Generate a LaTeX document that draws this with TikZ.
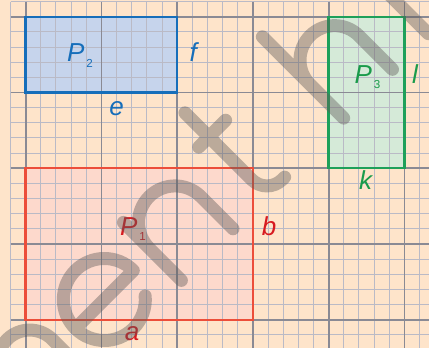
\documentclass[tikz,border=0pt]{standalone}
\usepackage{fontspec}
\setmainfont{Liberation Sans}
\definecolor{bg}{RGB}{254,228,202}
\definecolor{minorc}{RGB}{186,186,198}
\definecolor{majorc}{RGB}{138,138,148}
\definecolor{blueS}{RGB}{22,110,186}
\definecolor{blueF}{RGB}{198,212,236}
\definecolor{redS}{RGB}{236,78,58}
\definecolor{redF}{RGB}{253,217,204}
\definecolor{redT}{RGB}{215,25,32}
\definecolor{greenS}{RGB}{30,160,90}
\definecolor{greenF}{RGB}{213,234,216}
\definecolor{greenT}{RGB}{26,155,75}
\definecolor{wm}{RGB}{95,90,88}
\newcommand{\subsc}[1]{\kern1pt\raisebox{-2.8pt}{\fontsize{5.8}{6}\selectfont\upshape #1}}
\begin{document}
\begin{tikzpicture}[x=0.5pt,y=-0.5pt,
  lbl/.style={inner sep=0pt, anchor=base, font=\fontsize{13}{15}\selectfont\itshape},
  minorline/.style={draw=minorc, line width=0.5pt},
  majorline/.style={draw=majorc, line width=0.9pt},
  rectline/.style={line width=1.2pt},
  wmline/.style={draw=wm, draw opacity=0.42, line width=6.5pt, line cap=round, line join=round}]
\useasboundingbox (0,0) rectangle (429,348);
\clip (0,0) rectangle (429,348);
\fill[bg] (0,0) rectangle (429,348);
% fills
\fill[blueF] (25.65,16.75) rectangle (177.15,92.5);
\fill[redF] (25.65,168.25) rectangle (252.9,319.75);
\fill[greenF] (328.65,16.75) rectangle (404.4,168.25);
% grid
\foreach \i in {0,...,27} {
  \pgfmathsetmacro\xx{10.5+15.15*\i}
  \draw[minorline] (\xx,1.6) -- (\xx,348);
}
\foreach \j in {0,...,22} {
  \pgfmathsetmacro\yy{1.6+15.15*\j}
  \draw[minorline] (10.5,\yy) -- (429,\yy);
}
\foreach \i in {1,6,...,26} {
  \pgfmathsetmacro\xx{10.5+15.15*\i}
  \draw[majorline] (\xx,1.6) -- (\xx,348);
}
\foreach \j in {1,6,...,21} {
  \pgfmathsetmacro\yy{1.6+15.15*\j}
  \draw[majorline] (10.5,\yy) -- (429,\yy);
}
% rectangles
\draw[rectline, blueS] (25.65,16.75) rectangle (177.15,92.5);
\draw[rectline, redS] (25.65,168.25) rectangle (252.9,319.75);
\draw[rectline, greenS] (328.65,16.75) rectangle (404.4,168.25);
% labels
\node[lbl, text=blueS] (p2) at (80,61.7) {P\subsc{2}};
\node[lbl, text=blueS] (lf) at (193.3,61.7) {f};
\node[lbl, text=blueS] (le) at (116.7,115) {e};
\node[lbl, text=greenT] (p3) at (367.5,83.3) {P\subsc{3}};
\node[lbl, text=greenT] (ll) at (415,83.3) {l};
\node[lbl, text=greenT] (lk) at (365.7,189) {k};
\node[lbl, text=redT] (p1) at (133,235) {P\subsc{1}};
\node[lbl, text=redT] (lb) at (269,235.7) {b};
\node[lbl, text=redT] (la) at (132,340.7) {a};
% watermark
\begin{scope}[shift={(235.5,235.5)}, x={(0.35355pt,0.35355pt)}, y={(-0.35355pt,0.35355pt)}]
\draw[wmline]
  % m
  (-331,6.5) -- (-331,88)
  (-331,56) arc[start angle=180, end angle=0, radius=32] -- (-267,6.5)
  (-267,56) arc[start angle=180, end angle=0, radius=32] -- (-203,6.5)
  % e
  (-179,47.5) -- (-97,47.5) arc[start angle=0, end angle=320, radius=41]
  % n
  (-70,6.5) -- (-70,88.5)
  (-70,52) arc[start angle=180, end angle=0, radius=36.5] -- (3,6.5)
  % t
  (51,122.5) -- (51,28) arc[start angle=180, end angle=270, radius=21.5] -- (76,6.5)
  (36.5,88.5) -- (74.5,88.5)
  % h
  (159.5,121.5) -- (159.5,6.5)
  (159.5,54) arc[start angle=180, end angle=0, radius=34.5] -- (228.5,6.5)
  % r
  (279,6.5) -- (279,88.5)
  (279,50) arc[start angle=180, end angle=60, radius=38.5];
\fill[wm, fill opacity=0.42, rounded corners=2pt] (107,-3) rectangle (123,13);
\end{scope}
\end{tikzpicture}
\end{document}
